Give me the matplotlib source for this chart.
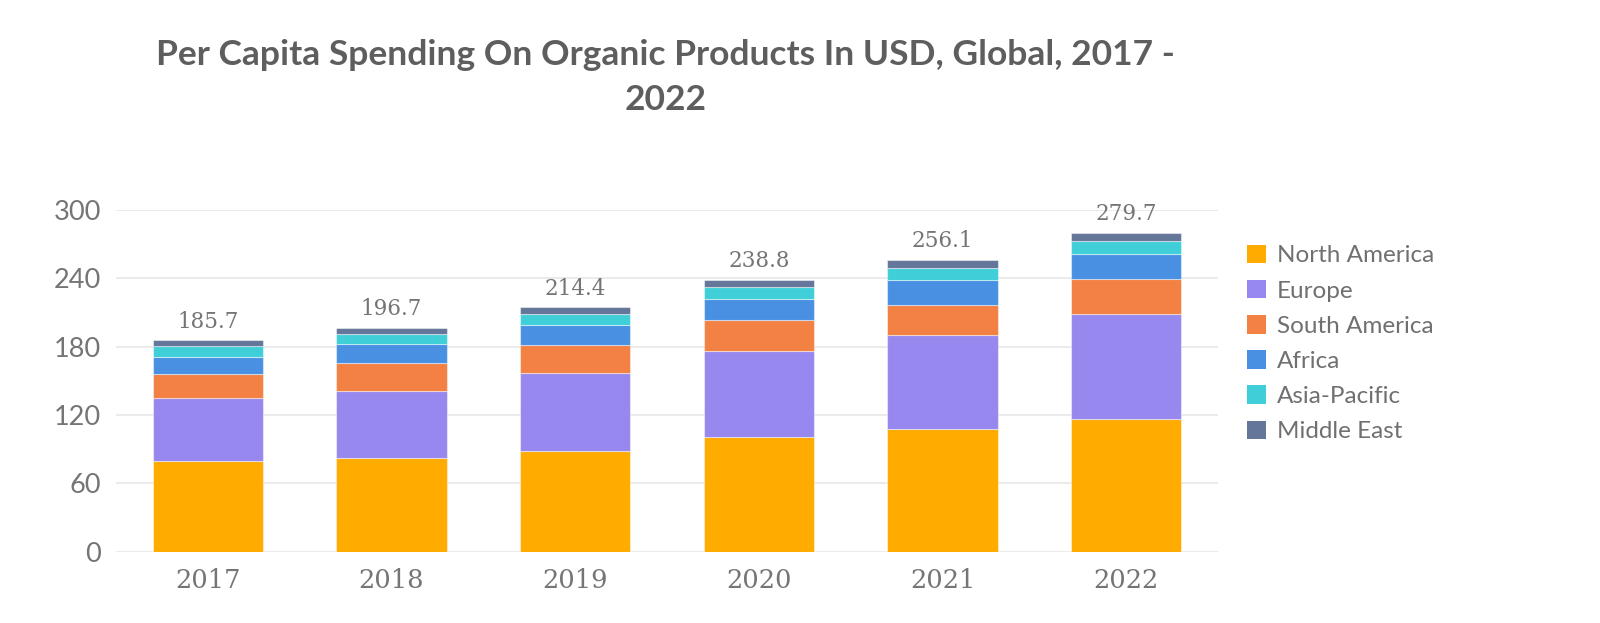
import matplotlib
matplotlib.use("Agg")
import matplotlib.pyplot as plt
import numpy as np
from matplotlib.patches import Patch

years = ["2017", "2018", "2019", "2020", "2021", "2022"]
north_america = [79.6, 82.2, 88.6, 100.9, 107.8, 116.5]
europe = [55.2, 59.2, 68.1, 75.7, 82.4, 92.5]
south_america = [20.8, 24.1, 24.7, 26.4, 26.8, 30.2]
africa = [15.6, 16.7, 17.6, 18.7, 21.7, 22.3]
asia_pacific = [9.8, 8.5, 9.7, 10.3, 10.5, 11.4]
middle_east = [4.7, 6.0, 5.7, 6.8, 6.9, 6.8]
yticks = [0, 60, 120, 180, 240, 300]

series = [
    ("North America", north_america, "#FFAB00"),
    ("Europe", europe, "#9788EF"),
    ("South America", south_america, "#F28143"),
    ("Africa", africa, "#4A90E2"),
    ("Asia-Pacific", asia_pacific, "#40CFD8"),
    ("Middle East", middle_east, "#647699"),
]

W, H, DPI = 1600, 623, 100
fig = plt.figure(figsize=(W / DPI, H / DPI), dpi=DPI)
fig.patch.set_facecolor("white")

ax_left, ax_right = 116 / W, 1218 / W
ax_bottom, ax_top = 1 - 551.7 / H, 1 - 210 / H
ax = fig.add_axes([ax_left, ax_bottom, ax_right - ax_left, ax_top - ax_bottom])

x = np.arange(len(years))
bottom = np.zeros(len(years))
for name, vals, color in series:
    v = np.array(vals)
    ax.bar(x, v, width=0.6, bottom=bottom, color=color,
           edgecolor=(1, 1, 1, 0.45), linewidth=0.8, label=name, zorder=3)
    bottom += v

totals = bottom
for xi, t in zip(x, totals):
    ax.annotate(f"{t:.1f}", xy=(xi, t), xytext=(0, 5.5), textcoords="offset points",
                ha="center", va="bottom", fontsize=15.5, family="DejaVu Serif",
                color="#757575", zorder=5, annotation_clip=False)

ax.set_xlim(-0.5, len(years) - 0.5)
ax.set_ylim(0, 300)
ax.set_yticks(yticks)
ax.set_yticklabels([str(t) for t in yticks], fontsize=19.5, family="Lato", color="#757575")
ax.set_xticks(x)
ax.set_xticklabels(years, fontsize=18.5, family="DejaVu Serif", color="#757575")
ax.tick_params(axis="both", length=0)
ax.tick_params(axis="y", pad=11)
ax.tick_params(axis="x", pad=12)
ax.grid(axis="y", color="#EBEBEB", linewidth=1.5, zorder=0)
ax.set_axisbelow(True)
for s in ax.spines.values():
    s.set_visible(False)

handles = [Patch(facecolor=c, edgecolor="none") for _, _, c in series]
labels = [n for n, _, _ in series]
leg = fig.legend(handles, labels, loc="center left",
                 bbox_to_anchor=(1247 / W, 1 - 343.5 / H),
                 frameon=False, handlelength=0.8, handleheight=0.8,
                 handletextpad=0.42, labelspacing=0.555, borderpad=0, borderaxespad=0,
                 prop={"family": "Lato", "size": 17.5})
for t in leg.get_texts():
    t.set_color("#707070")

title = fig.text(665.5 / W, 1 - 110 / H,
                 "Per Capita Spending On Organic Products In USD, Global, 2017 -\n2022",
                 ha="center", va="baseline", fontsize=22, fontweight="bold",
                 family="Lato", color="#5E5E5E", linespacing=1.5)
# fit title width to reference (~1015 px)
fig.canvas.draw()
bb = title.get_window_extent()
title.set_fontsize(22 * 1015 / bb.width)

fig.savefig("out.png", dpi=DPI, facecolor="white")
